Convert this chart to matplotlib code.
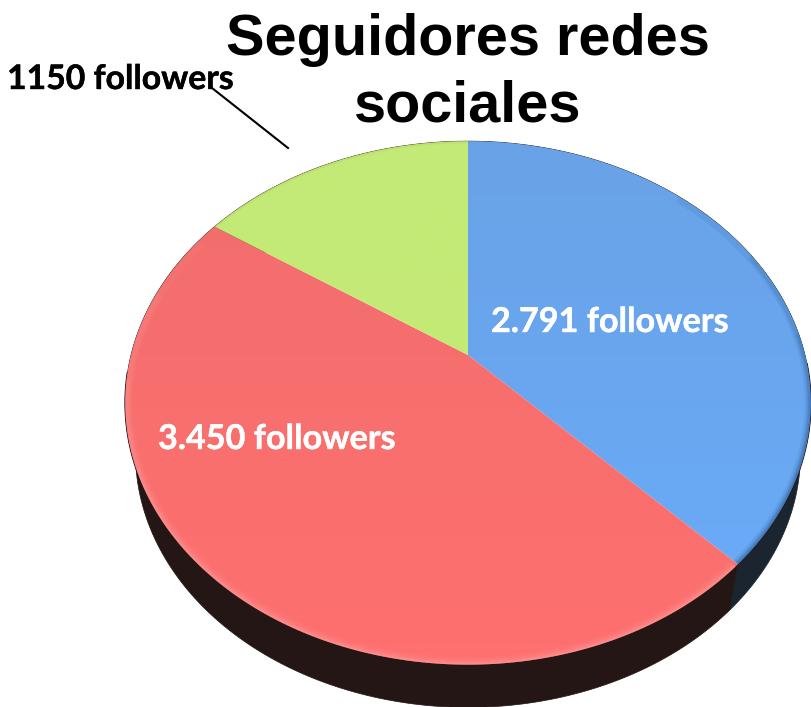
import numpy as np
import matplotlib
matplotlib.use("Agg")
import matplotlib.pyplot as plt
import matplotlib.patheffects as pe
from matplotlib.patches import Polygon
from matplotlib.colors import LinearSegmentedColormap

title_lines = ["Seguidores redes", "sociales"]
series_labels = ["2.791 followers", "3.450 followers", "1150 followers"]
followers = [2791, 3450, 1150]
top_colors = [("#6aa2e6", "#69acfb"), ("#f06e6c", "#ff7070"), ("#c3e976", "#c7ec76")]
side_colors = ["#1a2530", "#231614", "#2a2f18"]
rim_colors = ["#2f5d94", "#ffa8a8", "#a8c060"]
# bevel layers per slice: start angle, end angle, line width, alpha
rim_layers = [
    [(45, 136, 9, 0.12), (65, 136, 6, 0.18), (85, 136, 4, 0.25), (105, 136, 2, 0.3)],
    [(136, 300, 11, 0.08), (136, 285, 8, 0.12), (136, 265, 5, 0.18), (136, 245, 2.5, 0.25)],
    [(304, 360, 3, 0.2)],
]

# perspective model of the disc, in pixels
CX, CY, A, B, K = 468.0, 355.0, 253.0, 337.0, 0.183
DROP, SHRINK = 52.0, 0.97


def project(theta, base=False):
    u, v = np.sin(theta), np.cos(theta)
    d = 1 + K * v
    x, y = B * u / d, -A * v / d
    if base:
        return CX + SHRINK * x, CY + SHRINK * y + DROP
    return CX + x, CY + y


fig = plt.figure(figsize=(8.11, 7.07), dpi=100)
ax = fig.add_axes([0, 0, 1, 1])
ax.set_xlim(0, 811)
ax.set_ylim(707, 0)
ax.axis("off")

edges = np.cumsum([0] + followers) / sum(followers) * 2 * np.pi

# side walls
for i in range(len(followers)):
    t = np.linspace(edges[i], edges[i + 1], 300)
    x1, y1 = project(t)
    x2, y2 = project(t, base=True)
    ax.add_patch(Polygon(np.c_[np.r_[x1, x2[::-1]], np.r_[y1, y2[::-1]]],
                         closed=True, fc=side_colors[i], ec=side_colors[i], lw=0.5, zorder=1))

# dark hairline around the visible part of the rim
t = np.radians(np.linspace(92, 266, 300))
ax.plot(*project(t), color="#231614", lw=1.2, zorder=1)

# top faces with gradients and rims
for i in range(len(followers)):
    t = np.linspace(edges[i], edges[i + 1], 300)
    x, y = project(t)
    poly = Polygon(np.c_[np.r_[CX, x], np.r_[CY, y]], closed=True, fc="none", ec="none", zorder=2)
    ax.add_patch(poly)
    cmap = LinearSegmentedColormap.from_list("g", top_colors[i])
    im = ax.imshow(np.linspace(0, 1, 256)[:, None], cmap=cmap, extent=(0, 811, 680, 140),
                   aspect="auto", zorder=2, interpolation="bilinear")
    im.set_clip_path(poly)
    deg = np.degrees(t)
    for start, end, w, a in rim_layers[i]:
        mask = (deg >= start) & (deg <= end)
        ln, = ax.plot(x[mask], y[mask], color=rim_colors[i], lw=w, alpha=a, zorder=3,
                      solid_capstyle="butt")
        ln.set_clip_path(poly)

ax.set_xlim(0, 811)
ax.set_ylim(707, 0)

# texts
title_font = dict(family="Liberation Sans", fontweight="bold", fontsize=41.5, color="black",
                  ha="center", va="baseline", zorder=6)
ax.text(468, 55, title_lines[0], **title_font)
ax.text(468, 122, title_lines[1], **title_font)
label_font = dict(family="Lato", fontweight="bold", fontsize=24.6, ha="left", va="baseline", zorder=6)
white_fx = [pe.withStroke(linewidth=0.3, foreground="white")]
black_fx = [pe.withStroke(linewidth=0.3, foreground="black")]
ax.text(491, 332, series_labels[0], color="white", path_effects=white_fx, **label_font)
ax.text(158, 449, series_labels[1], color="white", path_effects=white_fx, **label_font)
ax.text(7, 89, series_labels[2], color="black", path_effects=black_fx, family="Lato",
        fontweight="bold", fontsize=24.3, ha="left", va="baseline", zorder=6)
ax.plot([212, 288], [88, 148], color="black", lw=1.5, zorder=5)

fig.savefig("out.png", dpi=100)
